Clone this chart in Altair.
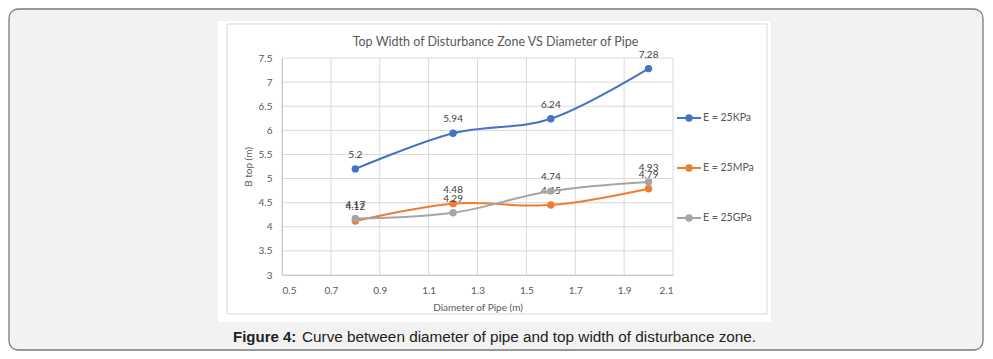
import altair as alt
import pandas as pd

# ---- data ----
diameter = [0.8, 1.2, 1.6, 2.0]
kpa = [5.2, 5.94, 6.24, 7.28]
mpa = [4.12, 4.48, 4.45, 4.79]
gpa = [4.17, 4.29, 4.74, 4.93]
series = ["E = 25KPa", "E = 25MPa", "E = 25GPa"]
colors = ["#4472C4", "#ED7D31", "#A5A5A5"]
x_ticks = [0.5, 0.7, 0.9, 1.1, 1.3, 1.5, 1.7, 1.9, 2.1]
y_ticks = [3, 3.5, 4, 4.5, 5, 5.5, 6, 6.5, 7, 7.5]
title_text = "Top Width of Disturbance Zone VS Diameter of Pipe"
x_title = "Diameter of Pipe (m)"
y_title = "B top (m)"
caption_bold = "Figure 4:"
caption_rest = "Curve between diameter of pipe and top width of disturbance zone."

FONT = "Lato"
TXT = "#595959"
GRID = "#d9d9d9"

rows = []
for name, vals in zip(series, [kpa, mpa, gpa]):
    for d, v in zip(diameter, vals):
        rows.append({"series": name, "diameter": d, "value": v, "label": f"{v:g}"})
df = pd.DataFrame(rows)
one = pd.DataFrame({"k": [0]})

xscale = alt.Scale(domain=[0.5, 2.1], nice=False, zero=False)
yscale = alt.Scale(domain=[3, 7.5], nice=False, zero=False)
cscale = alt.Scale(domain=series, range=colors)

x_axis = alt.Axis(values=x_ticks, format=".1f", title=x_title, grid=False, ticks=False,
                  labelPadding=10, labelFont=FONT, labelFontSize=10, labelColor=TXT,
                  titleFont=FONT, titleFontSize=10, titleColor=TXT, titleFontWeight="normal",
                  domainColor="#c8c8c8", titleX=195.5, titleY=32, titleBaseline="middle",
                  zindex=1)
y_axis = alt.Axis(values=y_ticks, format="~g", title=y_title, grid=False, ticks=False,
                  labelPadding=10, labelFont=FONT, labelFontSize=10, labelColor=TXT,
                  titleFont=FONT, titleFontSize=10, titleColor=TXT, titleFontWeight="normal",
                  domainColor="#c8c8c8", titleX=-34, titleY=108.5, titleBaseline="middle",
                  zindex=1)

# background frame (figure box, white chart panel, chart border)
bg_box = alt.Chart(one).mark_rect(fill="#f2f2f2", stroke="#7a7a7a", strokeWidth=1.3,
                                  cornerRadius=9).encode(
    x=alt.value(-273), x2=alt.value(701), y=alt.value(-49), y2=alt.value(292))
panel = alt.Chart(one).mark_rect(fill="white").encode(
    x=alt.value(-64), x2=alt.value(489), y=alt.value(-37), y2=alt.value(264))
panel_border = alt.Chart(one).mark_rect(fill=None, stroke=GRID, strokeWidth=1).encode(
    x=alt.value(-55), x2=alt.value(485), y=alt.value(-34), y2=alt.value(256))

# gridlines
grid_x = alt.Chart(pd.DataFrame({"diameter": x_ticks})).mark_rule(color=GRID, strokeWidth=1).encode(
    x=alt.X("diameter:Q", scale=xscale, axis=x_axis))
grid_y = alt.Chart(pd.DataFrame({"value": y_ticks})).mark_rule(color=GRID, strokeWidth=1).encode(
    y=alt.Y("value:Q", scale=yscale, axis=y_axis))

series_layers = []
for name in series:
    base = alt.Chart(df).transform_filter(alt.datum.series == name).encode(
        x=alt.X("diameter:Q", scale=xscale, axis=x_axis),
        y=alt.Y("value:Q", scale=yscale, axis=y_axis),
        color=alt.Color("series:N", scale=cscale, legend=None),
    )
    series_layers.append(base.mark_line(strokeWidth=2, interpolate="cardinal"))
    series_layers.append(base.mark_point(filled=True, size=55, opacity=1))
    series_layers.append(base.mark_text(font=FONT, fontSize=10, color="#404040", dy=-14,
                                        baseline="middle", align="center").encode(
        text="label:N", color=alt.value("#404040")))

main = alt.layer(grid_x, grid_y, *series_layers)

title = alt.Chart(one).mark_text(text=title_text, font=FONT, fontSize=12.5, color=TXT,
                                 align="center", baseline="middle").encode(
    x=alt.value(213.5), y=alt.value(-16))

# legend
leg_df = pd.DataFrame({"series": series})
leg_y = alt.Y("series:N", scale=alt.Scale(type="point", domain=series, range=[60, 160],
                                          padding=0), axis=None)
leg_color = alt.Color("series:N", scale=cscale, legend=None)
leg_line = alt.Chart(leg_df).mark_rule(strokeWidth=2).encode(
    x=alt.value(395), x2=alt.value(419), y=leg_y, color=leg_color)
leg_pt = alt.Chart(leg_df).mark_point(filled=True, size=55, opacity=1).encode(
    x=alt.value(407), y=leg_y, color=leg_color)
leg_txt = alt.Chart(leg_df).mark_text(font=FONT, fontSize=10.5, color=TXT, align="left",
                                      baseline="middle").encode(
    x=alt.value(421), y=leg_y, text="series:N")
legend = alt.layer(leg_line, leg_pt, leg_txt)

cap1 = alt.Chart(one).mark_text(text=caption_bold, font="Liberation Sans", fontSize=15,
                                fontWeight="bold", color="#222222", align="left",
                                baseline="middle").encode(x=alt.value(-49), y=alt.value(279))
cap2 = alt.Chart(one).mark_text(text=caption_rest, font="Liberation Sans", fontSize=15.3,
                                color="#222222", align="left",
                                baseline="middle").encode(x=alt.value(20), y=alt.value(279))

chart = alt.layer(bg_box, panel, panel_border, main, title, legend, cap1, cap2).resolve_scale(
    y="independent"
).properties(
    width=391, height=217, autosize="none",
    padding={"left": 274, "top": 50, "right": 312, "bottom": 76},
).configure_view(strokeWidth=0)

chart.save("out.html", embed_options={"renderer": "svg", "actions": False})
